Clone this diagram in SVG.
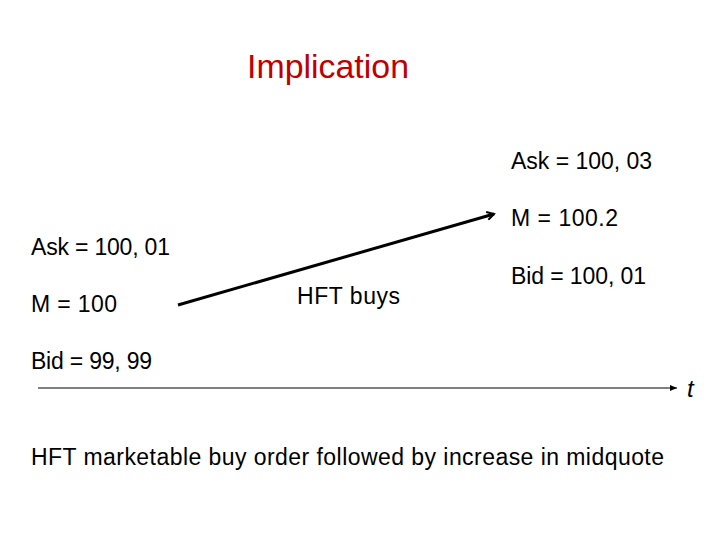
<svg xmlns="http://www.w3.org/2000/svg" width="720" height="540" viewBox="0 0 720 540">
<style>
.t{font-family:"Liberation Sans",Arial,sans-serif;font-size:23px;fill:#000}
.title{font-family:"Liberation Sans",Arial,sans-serif;font-size:33px;fill:#C00000}
</style>
<defs>
<marker id="ah" markerWidth="10" markerHeight="10" refX="8" refY="5" orient="auto" markerUnits="userSpaceOnUse">
<path d="M1,1 L8,5 L1,9" fill="none" stroke="#000" stroke-width="2"/>
</marker>
<marker id="ah2" markerWidth="8" markerHeight="6" refX="7" refY="3" orient="auto" markerUnits="userSpaceOnUse">
<path d="M0,0 L7,3 L0,6 Z" fill="#000"/>
</marker>
</defs>
<rect width="720" height="540" fill="#fff"/>
<text class="title" x="247" y="78" textLength="162" lengthAdjust="spacingAndGlyphs">Implication</text>
<g id="before">
<text class="t" x="31" y="255" textLength="139">Ask = 100, 01</text>
<text class="t" x="31" y="312" textLength="86">M = 100</text>
<text class="t" x="31" y="369" textLength="121">Bid = 99, 99</text>
</g>
<g id="after">
<text class="t" x="511" y="169" textLength="141">Ask = 100, 03</text>
<text class="t" x="511" y="226" textLength="107">M = 100.2</text>
<text class="t" x="511" y="284" textLength="135">Bid = 100, 01</text>
</g>
<g id="hft"><text class="t" x="297" y="304" textLength="103">HFT buys</text></g>
<g id="connectors">
<line x1="178" y1="305" x2="494" y2="214" stroke="#000" stroke-width="3" marker-end="url(#ah)"/>
<line x1="38" y1="388" x2="677" y2="388" stroke="#000" stroke-width="1" marker-end="url(#ah2)"/>
</g>
<text class="t" x="687" y="397" font-style="italic" style="font-size:24px">t</text>
<text class="t" x="31" y="465" textLength="633">HFT marketable buy order followed by increase in midquote</text>
</svg>
